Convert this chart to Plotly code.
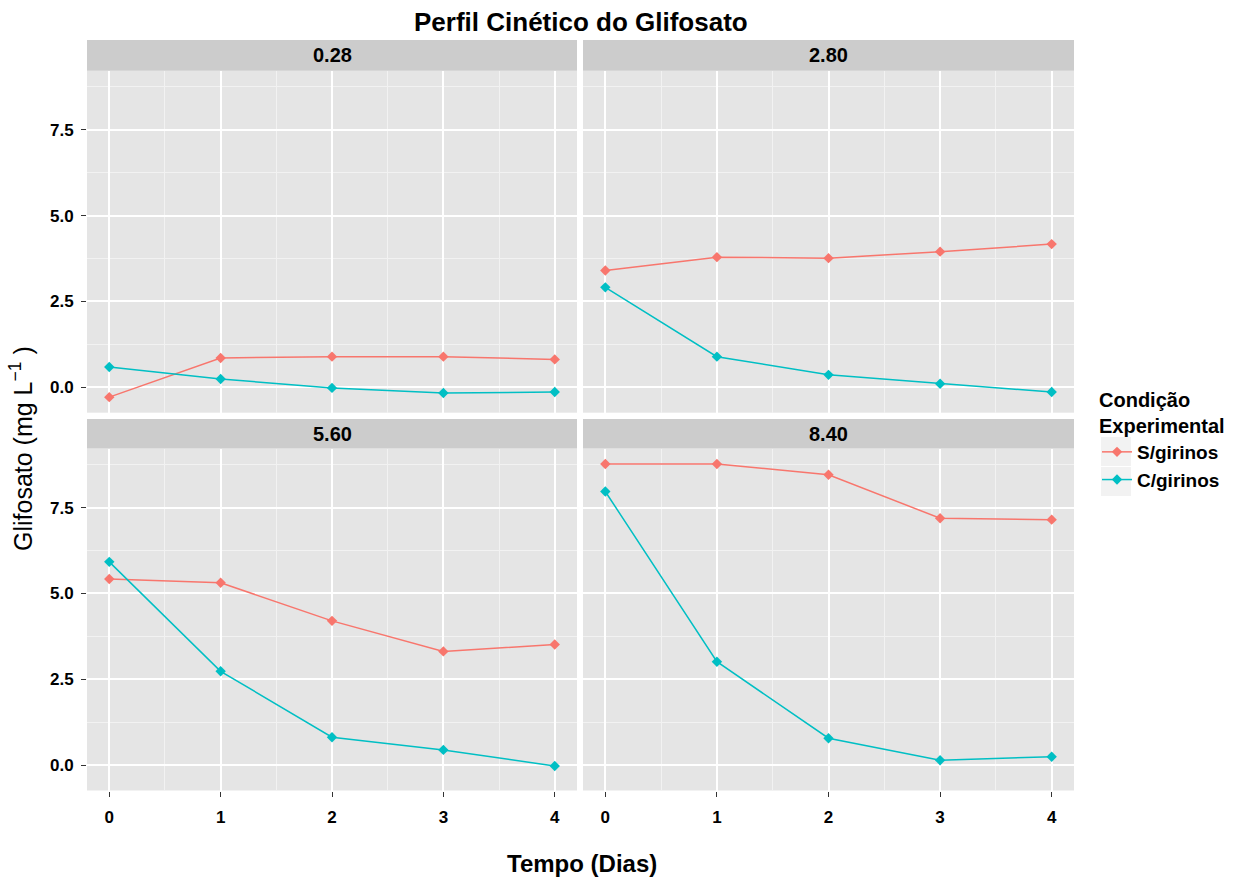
import plotly.graph_objects as go

# ---------------- data ----------------
dias = [0, 1, 2, 3, 4]
concentracoes = ["0.28", "2.80", "5.60", "8.40"]
condicoes = ["S/girinos", "C/girinos"]

s_girinos_028 = [-0.29, 0.85, 0.89, 0.89, 0.81]
c_girinos_028 = [0.59, 0.24, -0.02, -0.17, -0.14]
s_girinos_280 = [3.40, 3.79, 3.76, 3.95, 4.17]
c_girinos_280 = [2.91, 0.89, 0.36, 0.10, -0.14]
s_girinos_560 = [5.42, 5.31, 4.20, 3.31, 3.51]
c_girinos_560 = [5.92, 2.73, 0.81, 0.44, -0.03]
s_girinos_840 = [8.77, 8.77, 8.46, 7.19, 7.15]
c_girinos_840 = [7.97, 3.01, 0.78, 0.14, 0.24]

y_ticks = [0.0, 2.5, 5.0, 7.5]
y_tick_text = ["0.0", "2.5", "5.0", "7.5"]

series = {
    "0.28": (s_girinos_028, c_girinos_028),
    "2.80": (s_girinos_280, c_girinos_280),
    "5.60": (s_girinos_560, c_girinos_560),
    "8.40": (s_girinos_840, c_girinos_840),
}
cores = {"S/girinos": "#F8766D", "C/girinos": "#00BFC4"}

# ---------------- layout geometry (pixels) ----------------
W, H = 1249, 879
FONT = "Liberation Sans, Arial, sans-serif"

def px_x(x):
    return x / W

def px_y(y):
    return 1 - y / H

cols = [(87, 577), (583, 1074)]
rows = [(70.7, 412.7), (448.5, 790.5)]
strips = [(40, 70.7), (419, 448.5)]

all_vals = [v for pair in series.values() for s in pair for v in s]
lo, hi = min(all_vals), max(all_vals)
pad = 0.05 * (hi - lo)
y_range = [lo - pad, hi + pad]
x_range = [min(dias) - 0.05 * (max(dias) - min(dias)), max(dias) + 0.05 * (max(dias) - min(dias))]

fig = go.Figure()
shapes = []
annotations = []

for i, conc in enumerate(concentracoes):
    r, c = divmod(i, 2)
    idx = i + 1
    xa = "x" if idx == 1 else f"x{idx}"
    ya = "y" if idx == 1 else f"y{idx}"
    s_vals, c_vals = series[conc]
    for nome, vals in zip(condicoes, (s_vals, c_vals)):
        fig.add_trace(go.Scatter(
            x=dias, y=vals, mode="lines+markers", name=nome,
            legendgroup=nome, showlegend=(i == 0),
            line=dict(color=cores[nome], width=1.5),
            marker=dict(symbol="diamond", size=8, color=cores[nome]),
            xaxis=xa, yaxis=ya,
        ))
    x0, x1 = cols[c]
    yt, yb = rows[r]
    bottom = (r == 1)
    left = (c == 0)
    xkey = "xaxis" if idx == 1 else f"xaxis{idx}"
    ykey = "yaxis" if idx == 1 else f"yaxis{idx}"
    fig.update_layout({
        xkey: dict(
            domain=[px_x(x0), px_x(x1)], anchor=ya, range=x_range,
            tickmode="array", tickvals=dias, ticktext=[str(d) for d in dias],
            showgrid=True, gridcolor="white", gridwidth=1.5,
            minor=dict(dtick=0.5, tick0=0, showgrid=True, gridcolor="#F2F2F2", gridwidth=1),
            zeroline=False, showline=False,
            ticks="outside" if bottom else "", ticklen=5, tickwidth=1, tickcolor="#333333",
            showticklabels=bottom, ticklabelstandoff=6,
            tickfont=dict(family=FONT, size=17, color="black", weight="bold"),
        ),
        ykey: dict(
            domain=[px_y(yb), px_y(yt)], anchor=xa, range=y_range,
            tickmode="array", tickvals=y_ticks, ticktext=y_tick_text,
            showgrid=True, gridcolor="white", gridwidth=1.5,
            minor=dict(dtick=1.25, tick0=0, showgrid=True, gridcolor="#F2F2F2", gridwidth=1),
            zeroline=False, showline=False,
            ticks="outside" if left else "", ticklen=5, tickwidth=1, tickcolor="#333333",
            showticklabels=left, ticklabelstandoff=4,
            tickfont=dict(family=FONT, size=17, color="black", weight="bold"),
        ),
    })
    st, sb = strips[r]
    shapes.append(dict(type="rect", xref="paper", yref="paper",
                       x0=px_x(x0), x1=px_x(x1), y0=px_y(sb), y1=px_y(st),
                       fillcolor="#CCCCCC", line=dict(width=0), layer="below"))
    annotations.append(dict(text=f"<b>{conc}</b>", xref="paper", yref="paper",
                            x=px_x((x0 + x1) / 2), y=px_y((st + sb) / 2),
                            xanchor="center", yanchor="middle", showarrow=False,
                            font=dict(family=FONT, size=20, color="black")))

# legend key backgrounds (ggplot style)
for k in range(2):
    shapes.append(dict(type="rect", xref="paper", yref="paper",
                       x0=px_x(1101), x1=px_x(1131),
                       y0=px_y(437 + 30 * k + 29), y1=px_y(437 + 30 * k),
                       fillcolor="#F2F2F2", line=dict(width=0), layer="below"))

annotations.append(dict(text="<b>Perfil Cinético do Glifosato</b>", xref="paper", yref="paper",
                        x=px_x(581), y=px_y(22), xanchor="center", yanchor="middle",
                        showarrow=False, font=dict(family=FONT, size=26, color="black")))
annotations.append(dict(text="<b>Tempo (Dias)</b>", xref="paper", yref="paper",
                        x=px_x(582), y=px_y(863), xanchor="center", yanchor="middle",
                        showarrow=False, font=dict(family=FONT, size=24, color="black")))
annotations.append(dict(text="Glifosato (mg L<sup>−1</sup> )", xref="paper", yref="paper",
                        x=px_x(21), y=px_y(449), xanchor="center", yanchor="middle",
                        textangle=-90, showarrow=False,
                        font=dict(family=FONT, size=25, color="black")))

fig.update_layout(
    width=W, height=H,
    margin=dict(l=0, r=0, t=0, b=0),
    paper_bgcolor="white", plot_bgcolor="#E5E5E5",
    shapes=shapes, annotations=annotations,
    showlegend=True,
    legend=dict(
        title=dict(text="<b>Condição<br>Experimental</b>",
                   font=dict(family=FONT, size=20, color="black")),
        font=dict(family=FONT, size=19, color="black", weight="bold"),
        x=px_x(1097), y=px_y(381), xanchor="left", yanchor="top",
        bgcolor="rgba(0,0,0,0)", itemwidth=30, tracegroupgap=0,
    ),
)

fig.write_html("out.html")
